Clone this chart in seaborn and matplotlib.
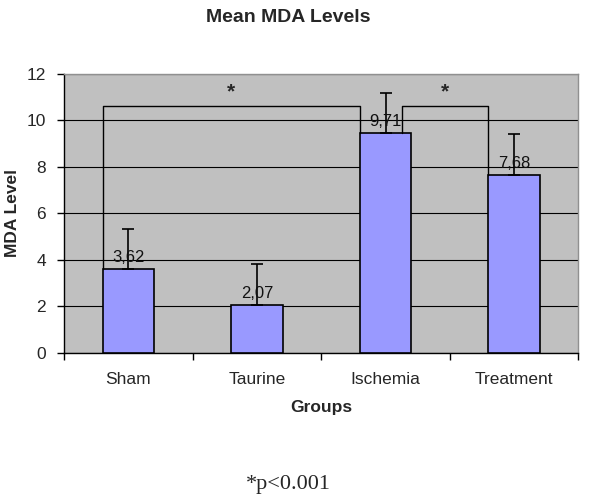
import numpy as np
import pandas as pd
import seaborn as sns
import matplotlib.pyplot as plt

# values
groups = ['Sham', 'Taurine', 'Ischemia', 'Treatment']
mda_mean = [3.61, 2.04, 9.45, 7.64]
mda_err = [1.72, 1.77, 1.72, 1.78]
value_labels = ['3,62', '2,07', '9,71', '7,68']
y_ticks = [0, 2, 4, 6, 8, 10, 12]
# significance brackets: (left group, right group, bracket height)
brackets = [(0, 2, 10.62), (2, 3, 10.62)]

df = pd.DataFrame({'Groups': groups, 'MDA Level': mda_mean})

sns.set_theme(style='white')
plt.rcParams['font.family'] = ['Liberation Sans', 'DejaVu Sans']

fig = plt.figure(figsize=(6, 4.99), dpi=100)
ax = fig.add_axes([0.107, 0.293, 0.857, 0.559])
ax.set_facecolor('#c0c0c0')

sns.barplot(data=df, x='Groups', y='MDA Level', color='#9999ff', saturation=1,
            edgecolor='black', linewidth=1.2, width=0.4, errorbar=None, ax=ax, zorder=3)

x = np.arange(len(groups))
ax.errorbar(x, mda_mean, yerr=[np.zeros(len(groups)), mda_err], fmt='none',
            ecolor='black', elinewidth=1.2, capsize=4, capthick=1.2, zorder=4)

for xi, yi, lab in zip(x, mda_mean, value_labels):
    ax.annotate(lab, (xi, yi), xytext=(0, 3), textcoords='offset points',
                ha='center', va='bottom', fontsize=12, color='#111111', zorder=5)

# bracket ends: bar left edges, except the second one starts right of the Ischemia error bar
bars = ax.patches
left_edge = [b.get_x() for b in bars]
starts = [left_edge[0], x[2] + 0.13]
ends = [left_edge[2], left_edge[3]]
for (g1, g2, h), xs, xe in zip(brackets, starts, ends):
    ax.plot([xs, xs, xe, xe], [mda_mean[g1], h, h, mda_mean[g2]],
            color='black', linewidth=1.0, zorder=5)
    ax.text((xs + xe) / 2, h + 0.2, '*', ha='center', va='bottom',
            fontsize=15, fontweight='bold', zorder=5)

ax.set_xlim(-0.5, len(groups) - 0.5)
ax.set_ylim(0, 12)
ax.set_yticks(y_ticks)
ax.yaxis.grid(True, color='black', linewidth=0.8)
ax.set_axisbelow(True)

ax.set_xticks(x)
ax.set_xticks(np.arange(len(groups) + 1) - 0.5, minor=True)
ax.tick_params(axis='x', which='major', length=0, pad=14, labelsize=12.5)
ax.tick_params(axis='x', which='minor', length=5, width=1, color='black', direction='out', bottom=True)
ax.tick_params(axis='y', length=5, width=1, color='black', direction='out', pad=8, labelsize=12.5, left=True)

for side in ['top', 'right']:
    ax.spines[side].set_color('#909090')
    ax.spines[side].set_linewidth(1)
for side in ['left', 'bottom']:
    ax.spines[side].set_color('black')
    ax.spines[side].set_linewidth(1)

ax.set_xlabel('Groups', fontsize=12.5, fontweight='bold', labelpad=9)
ax.set_ylabel('MDA Level', fontsize=12.5, fontweight='bold', labelpad=5)

fig.text(0.481, 0.965, 'Mean MDA Levels', ha='center', va='center',
         fontsize=14, fontweight='bold')
fig.text(0.48, 0.03, '*p<0.001', ha='center', va='center',
         fontsize=16, family=['Liberation Serif', 'DejaVu Serif'])

fig.savefig('out.png', dpi=100, facecolor='white')
